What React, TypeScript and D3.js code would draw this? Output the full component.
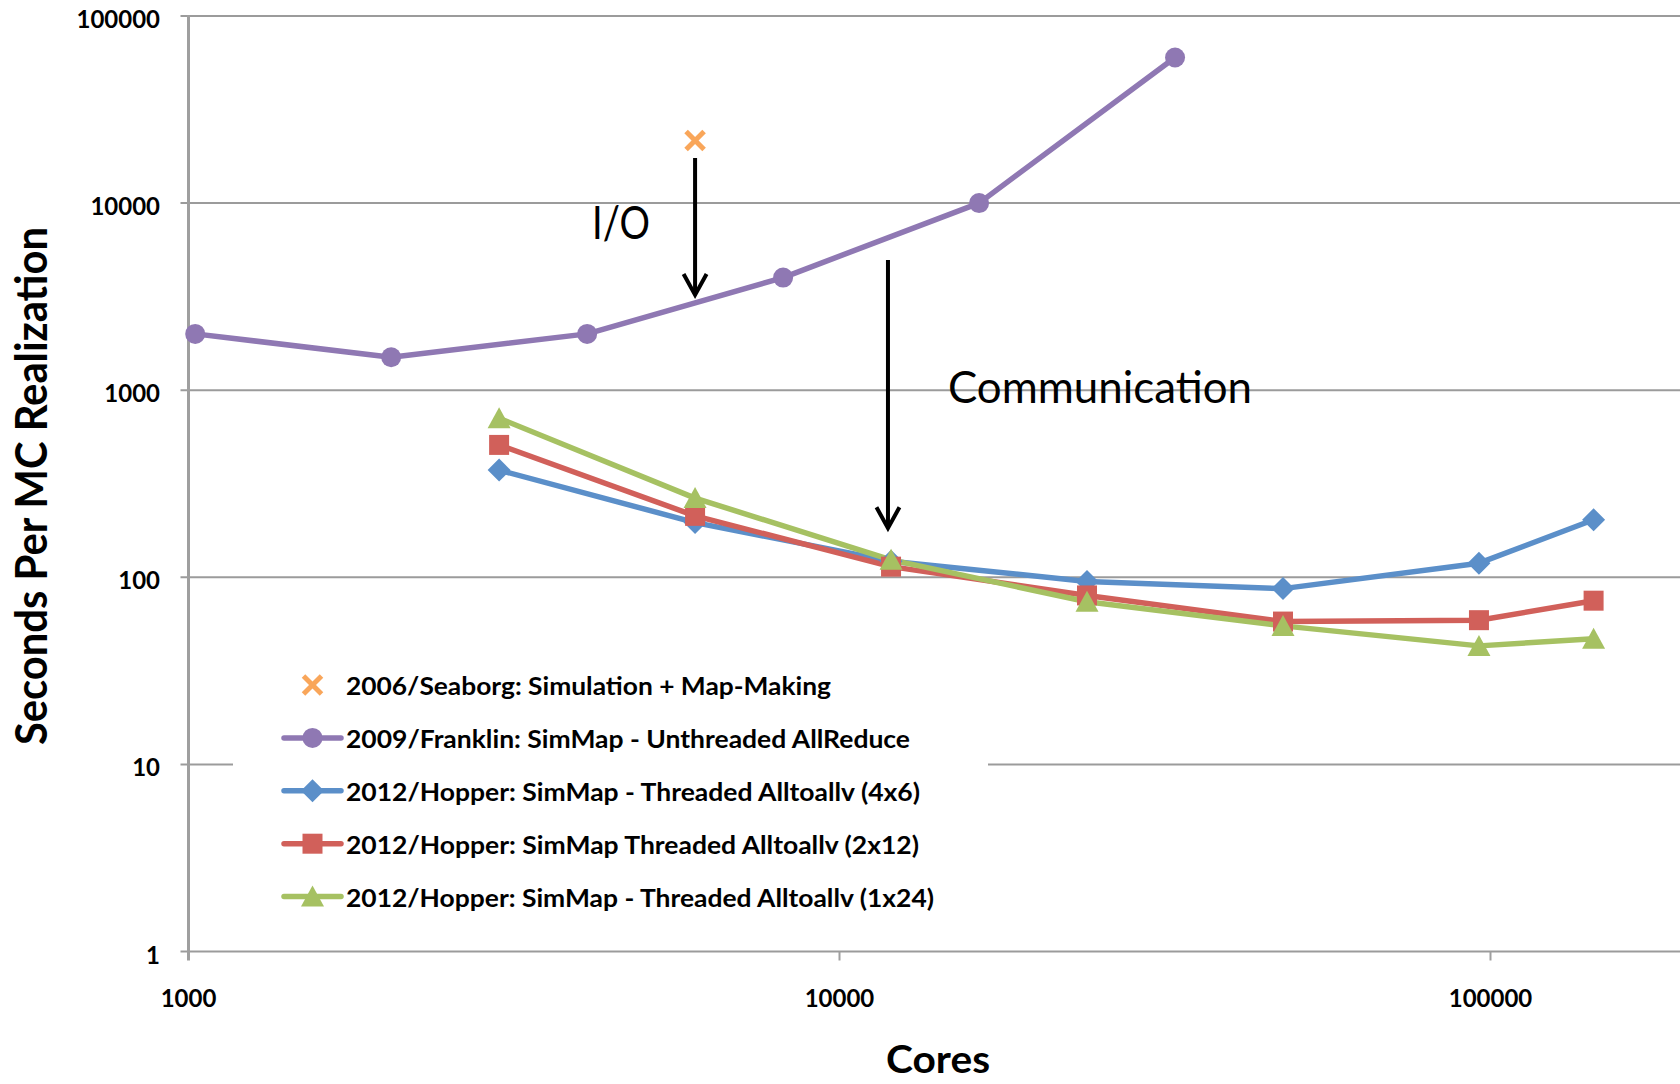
import React from "react";
import * as d3 from "d3";

// Run time per Monte Carlo realization vs. core count, three machine generations
const franklinCores = [1024, 2048, 4096, 8192, 16384, 32768];
const franklinSeconds = [2000, 1500, 2000, 4000, 10000, 60000];

const seaborgCores = [6000];
const seaborgSeconds = [21600];

const hopperCores = [3000, 6000, 12000, 24000, 48000, 96000, 144000];
const hopper4x6 = [374, 196, 122, 95, 87, 119, 203];
const hopper2x12 = [510, 213, 114, 80, 58, 59, 75];
const hopper1x24 = [708, 265, 124, 74, 55, 43, 47];

const xTicks = [1000, 10000, 100000];
const yTicks = [1, 10, 100, 1000, 10000, 100000];

const legendLabels = [
  "2006/Seaborg: Simulation + Map-Making",
  "2009/Franklin: SimMap - Unthreaded AllReduce",
  "2012/Hopper: SimMap - Threaded Alltoallv (4x6)",
  "2012/Hopper: SimMap Threaded Alltoallv (2x12)",
  "2012/Hopper: SimMap - Threaded Alltoallv (1x24)",
];

// annotation arrows, in data units: [cores, fromSeconds, toSeconds]
const ioArrow = [6000, 17400, 3230];
const commArrow = [11870, 4970, 183];

const W = 1680;
const H = 1084;
const FONT = "Lato, 'Open Sans', sans-serif";

const COLORS = {
  orange: "#F9A65A",
  purple: "#8F78B3",
  blue: "#5B8FC9",
  red: "#D1605A",
  green: "#A6C162",
};

type Shape = "x" | "circle" | "diamond" | "square" | "triangle";

function markerPath(shape: Shape, cx: number, cy: number): string {
  const p = d3.path();
  if (shape === "circle") {
    p.arc(cx, cy, 10, 0, Math.PI * 2);
  } else if (shape === "diamond") {
    const r = 11.5;
    p.moveTo(cx, cy - r);
    p.lineTo(cx + r, cy);
    p.lineTo(cx, cy + r);
    p.lineTo(cx - r, cy);
    p.closePath();
  } else if (shape === "square") {
    const r = 10;
    p.rect(cx - r, cy - r, 2 * r, 2 * r);
  } else if (shape === "triangle") {
    const hw = 11.5;
    p.moveTo(cx, cy - 11);
    p.lineTo(cx + hw, cy + 10);
    p.lineTo(cx - hw, cy + 10);
    p.closePath();
  }
  return p.toString();
}

function Marker({ shape, cx, cy, color }: { shape: Shape; cx: number; cy: number; color: string }) {
  if (shape === "x") {
    const r = 9;
    return (
      <g stroke={color} strokeWidth={5} strokeLinecap="butt">
        <line x1={cx - r} y1={cy - r} x2={cx + r} y2={cy + r} />
        <line x1={cx - r} y1={cy + r} x2={cx + r} y2={cy - r} />
      </g>
    );
  }
  return <path d={markerPath(shape, cx, cy)} fill={color} />;
}

export default function App() {
  const x = d3.scaleLog().domain([1000, 100000]).range([188.5, 1490.5]);
  const y = d3.scaleLog().domain([1, 100000]).range([951.5, 16]);

  const plotLeft = x(1000);
  const plotRight = W;
  const plotBottom = y(1);

  const series = [
    { label: legendLabels[0], cores: seaborgCores, secs: seaborgSeconds, color: COLORS.orange, shape: "x" as Shape, line: false },
    { label: legendLabels[1], cores: franklinCores, secs: franklinSeconds, color: COLORS.purple, shape: "circle" as Shape, line: true },
    { label: legendLabels[2], cores: hopperCores, secs: hopper4x6, color: COLORS.blue, shape: "diamond" as Shape, line: true },
    { label: legendLabels[3], cores: hopperCores, secs: hopper2x12, color: COLORS.red, shape: "square" as Shape, line: true },
    { label: legendLabels[4], cores: hopperCores, secs: hopper1x24, color: COLORS.green, shape: "triangle" as Shape, line: true },
  ];

  const legendTextWidths = [485, 564, 574, 573, 588];

  const lineGen = d3
    .line<[number, number]>()
    .x((d) => x(d[0]))
    .y((d) => y(d[1]));

  const arrow = (a: number[]) => {
    const ax = x(a[0]);
    const y0 = y(a[1]);
    const y1 = y(a[2]);
    return (
      <g stroke="#000" strokeWidth={4} fill="none">
        <line x1={ax} y1={y0} x2={ax} y2={y1 - 1} />
        <polyline points={`${ax - 11.5},${y1 - 21} ${ax},${y1} ${ax + 11.5},${y1 - 21}`} strokeLinejoin="miter" />
      </g>
    );
  };

  const legendX = 233;
  const legendRowY = (i: number) => 695 + i * 52.9;

  return (
    <svg
      width={W}
      height={H}
      viewBox={`0 0 ${W} ${H}`}
      style={{ position: "absolute", left: 0, top: 0, background: "#fff" }}
      fontFamily={FONT}
    >
      <rect x={0} y={0} width={W} height={H} fill="#fff" />

      {/* horizontal gridlines */}
      {yTicks.map((t) => (
        <line key={`g${t}`} x1={plotLeft - 8} x2={plotRight} y1={y(t)} y2={y(t)} stroke="#9B9B9B" strokeWidth={2} />
      ))}

      {/* y axis and x-axis ticks */}
      <line x1={plotLeft} x2={plotLeft} y1={y(100000) - 1} y2={plotBottom + 9} stroke="#9F9F9F" strokeWidth={3} />
      {xTicks.slice(1).map((t) => (
        <line key={`xt${t}`} x1={x(t)} x2={x(t)} y1={plotBottom} y2={plotBottom + 9} stroke="#9F9F9F" strokeWidth={2} />
      ))}

      {/* y tick labels */}
      {yTicks.map((t) => (
        <text key={`yl${t}`} x={160} y={y(t) + 12} textAnchor="end" fontWeight={700} fontSize={24} fill="#000">
          {d3.format("d")(t)}
        </text>
      ))}

      {/* x tick labels */}
      {xTicks.map((t) => (
        <text key={`xl${t}`} x={x(t)} y={1007} textAnchor="middle" fontWeight={700} fontSize={24} fill="#000">
          {d3.format("d")(t)}
        </text>
      ))}

      {/* axis titles */}
      <text x={938} y={1073} textAnchor="middle" fontWeight={700} fontSize={38} fill="#000" textLength={104} lengthAdjust="spacingAndGlyphs">
        Cores
      </text>
      <text
        transform={`translate(47,486) rotate(-90)`}
        textAnchor="middle"
        fontWeight={700}
        fontSize={44}
        fill="#000"
        textLength={518}
        lengthAdjust="spacingAndGlyphs"
      >
        Seconds Per MC Realization
      </text>

      {/* series lines */}
      {series
        .filter((s) => s.line)
        .map((s) => (
          <path
            key={`l${s.label}`}
            d={lineGen(s.cores.map((c, i) => [c, s.secs[i]] as [number, number])) || ""}
            fill="none"
            stroke={s.color}
            strokeWidth={5.5}
            strokeLinejoin="round"
          />
        ))}

      {/* series markers */}
      {series.map((s) => (
        <g key={`m${s.label}`}>
          {s.cores.map((c, i) => (
            <Marker key={i} shape={s.shape} cx={x(c)} cy={y(s.secs[i])} color={s.color} />
          ))}
        </g>
      ))}

      {/* annotations */}
      {arrow(ioArrow)}
      {arrow(commArrow)}
      <text x={592} y={239} fontSize={46} fill="#000" textLength={58} lengthAdjust="spacingAndGlyphs">
        I/O
      </text>
      <text x={948} y={403} fontSize={44} fill="#000" textLength={304} lengthAdjust="spacingAndGlyphs">
        Communication
      </text>

      {/* legend */}
      <rect x={legendX} y={652} width={755} height={276} fill="#fff" />
      {series.map((s, i) => {
        const cy = legendRowY(i) - 10;
        return (
          <g key={`lg${i}`}>
            {s.line && <line x1={284} x2={341} y1={cy} y2={cy} stroke={s.color} strokeWidth={5.5} strokeLinecap="round" />}
            <Marker shape={s.shape} cx={312.5} cy={cy} color={s.color} />
            <text
              x={346}
              y={legendRowY(i)}
              fontSize={25.5}
              fontWeight={700}
              fill="#000"
              textLength={legendTextWidths[i]}
              lengthAdjust="spacingAndGlyphs"
            >
              {s.label}
            </text>
          </g>
        );
      })}
    </svg>
  );
}
